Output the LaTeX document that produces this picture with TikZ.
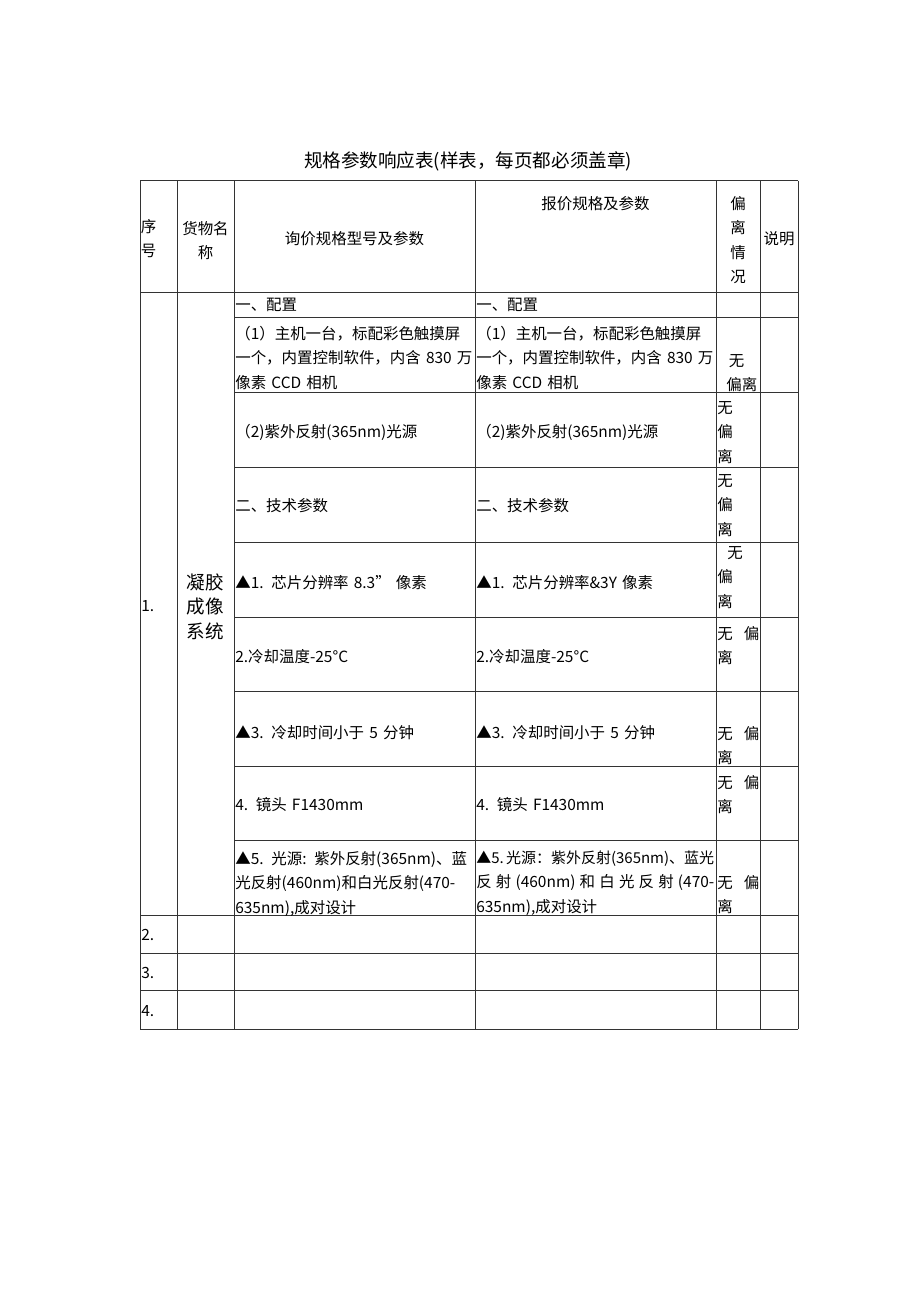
\documentclass[tikz,border=0pt]{standalone}
\usepackage{fontspec}
\setmainfont{Noto Sans CJK SC}
\usetikzlibrary{positioning}
\newcommand\tabfont{\fontsize{10}{15.85}\selectfont}
\newcommand\namefont{\fontsize{12}{15.85}\selectfont}
\newcommand\headfont{\fontsize{12}{14}\selectfont}
\def\pxu{0.6467pt}
\newdimen\pxd \pxd=0.6467pt
\tikzset{
    cellnode/.style={font=\tabfont,inner sep=0pt,anchor=base west,align=left,text width=241*\pxu},
    midnode/.style={font=\tabfont,inner sep=0pt,anchor=base,align=center},
    titlenode/.style={font=\headfont,inner sep=0pt,anchor=base},
    gridline/.style={line width=0.6pt,black!80}
}

\begin{document}
\begin{tikzpicture}[x=0.6467pt,y=-0.6467pt]
        \useasboundingbox (0,0) rectangle (920,1301);
        % title
        \node[titlenode] (title) at (468,167.5) {规格参数响应表(样表，每页都必须盖章)};

        % grid, vertical
        \draw[gridline] (140,180.5) -- (140,1029);
        \draw[gridline] (177,180.5) -- (177,1029);
        \draw[gridline] (234,180.5) -- (234,1029);
        \draw[gridline] (475,180.5) -- (475,1029);
        \draw[gridline] (716,180.5) -- (716,1029);
        \draw[gridline] (760,180.5) -- (760,1029);
        \draw[gridline] (798,180.5) -- (798,1029);
        % grid, full rows
        \draw[gridline] (140,180.5) -- (798,180.5);
        \draw[gridline] (140,292.5) -- (798,292.5);
        \draw[gridline] (140,915.5) -- (798,915.5);
        \draw[gridline] (140,953.5) -- (798,953.5);
        \draw[gridline] (140,990.5) -- (798,990.5);
        \draw[gridline] (140,1029) -- (798,1029);
        % grid, rows of item 1
        \draw[gridline] (234,317.5) -- (798,317.5);
        \draw[gridline] (234,392.5) -- (798,392.5);
        \draw[gridline] (234,467.5) -- (798,467.5);
        \draw[gridline] (234,542.5) -- (798,542.5);
        \draw[gridline] (234,617) -- (798,617);
        \draw[gridline] (234,691.5) -- (798,691.5);
        \draw[gridline] (234,766.5) -- (798,766.5);
        \draw[gridline] (234,840.5) -- (798,840.5);

        % header
        \node[cellnode,text width=37*\pxu] (hno) at (140.5,232) {序\\号};
        \node[midnode,text width=57*\pxu] (hname) at (205.5,234) {货物名\\称};
        \node[midnode] (hquery) at (354.5,244) {询价规格型号及参数};
        \node[midnode] (hoffer) at (595.5,209) {报价规格及参数};
        \node[midnode,text width=44*\pxu] (hdev) at (738,209) {偏\\离\\情\\况};
        \node[midnode] (hnote) at (779,244) {说明};

        % item 1
        \node[cellnode,text width=37*\pxu] (no1) at (141,611) {1.};
        \node[midnode,font=\namefont,text width=57*\pxu] (name1) at (205.5,589) {凝胶\\成像\\系统};

        \node[cellnode] (q0) at (235,310) {一、配置};
        \node[cellnode] (o0) at (476,310) {一、配置};

        \node[cellnode] (q1) at (235,339) {（1）主机一台，标配彩色触摸屏\\一个，内置控制软件，内含 830 万\\像素 CCD 相机};
        \node[cellnode] (o1) at (476,339) {（1）主机一台，标配彩色触摸屏\\一个，内置控制软件，内含 830 万\\像素 CCD 相机};
        \node[cellnode,text width=34*\pxu] (d1) at (726,366) {\,无\\偏离};

        \node[cellnode] (q2) at (235,437) {（2)紫外反射(365nm)光源};
        \node[cellnode] (o2) at (476,437) {（2)紫外反射(365nm)光源};
        \node[cellnode,text width=43*\pxu] (d2) at (717,413) {无\\偏\\离};

        \node[cellnode] (q3) at (235,511) {二、技术参数};
        \node[cellnode] (o3) at (476,511) {二、技术参数};
        \node[cellnode,text width=43*\pxu] (d3) at (717,486) {无\\偏\\离};

        \node[cellnode] (q4) at (235,588) {▲1. 芯片分辨率 8.3” 像素};
        \node[cellnode] (o4) at (476,588) {▲1. 芯片分辨率\&3Y 像素};
        \node[cellnode,text width=43*\pxu] (d4) at (717,558) {\hspace*{0.65em}无\\偏\\离};

        \node[cellnode] (q5) at (235,662) {2.冷却温度-25°C};
        \node[cellnode] (o5) at (476,662) {2.冷却温度-25°C};
        \node[cellnode,text width=43*\pxu] (d5) at (717,639) {\makebox[42\pxd][s]{无\hfill 偏}\\离};

        \node[cellnode] (q6) at (235,738) {▲3. 冷却时间小于 5 分钟};
        \node[cellnode] (o6) at (476,738) {▲3. 冷却时间小于 5 分钟};
        \node[cellnode,text width=43*\pxu] (d6) at (717,739) {\makebox[42\pxd][s]{无\hfill 偏}\\离};

        \node[cellnode] (q7) at (235,810) {4. 镜头 F1430mm};
        \node[cellnode] (o7) at (476,810) {4. 镜头 F1430mm};
        \node[cellnode,text width=43*\pxu] (d7) at (717,788) {\makebox[42\pxd][s]{无\hfill 偏}\\离};

        \node[cellnode] (q8) at (235,864) {▲5. 光源: 紫外反射(365nm)、蓝\\光反射(460nm)和白光反射(470-\\635nm),成对设计};
        \node[cellnode] (o8) at (476,863) {\makebox[239\pxd][l]{\fontsize{9.7}{15.85}\selectfont ▲5.\hspace{0.15em}光源：紫外反射(365nm)、蓝光}\\\makebox[238\pxd][s]{反\hfill 射\hfill (460nm)\hfill 和\hfill 白\hfill 光\hfill 反\hfill 射\hfill (470-}\\635nm),成对设计};
        \node[cellnode,text width=43*\pxu] (d8) at (717,888) {\makebox[42\pxd][s]{无\hfill 偏}\\离};

        % items 2 to 4
        \node[cellnode,text width=37*\pxu] (no2) at (141,940.5) {2.};
        \node[cellnode,text width=37*\pxu] (no3) at (141,978) {3.};
        \node[cellnode,text width=37*\pxu] (no4) at (141,1016) {4.};
\end{tikzpicture}
\end{document}
